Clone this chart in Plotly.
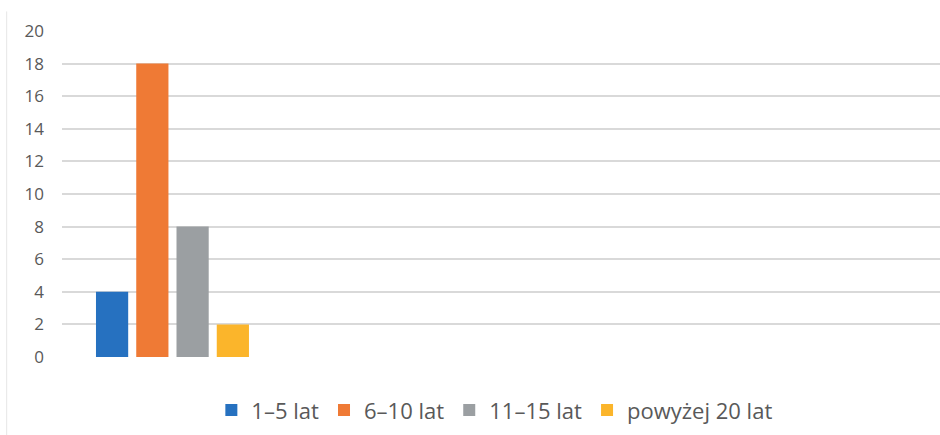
import plotly.graph_objects as go

categories = [""]
series_names = ["1–5 lat", "6–10 lat", "11–15 lat", "powyżej 20 lat"]
series_values = [[4], [18], [8], [2]]
colors = ["#2671C0", "#EF7A35", "#9B9FA2", "#FBB52B"]
y_ticks = [0, 2, 4, 6, 8, 10, 12, 14, 16, 18, 20]

fig = go.Figure()
for name, vals, col in zip(series_names, series_values, colors):
    fig.add_trace(go.Bar(x=[0], y=vals, name=name, marker=dict(color=col, line=dict(width=0))))

fig.update_layout(
    width=940, height=435,
    margin=dict(l=62, r=0, t=31, b=78),
    paper_bgcolor="white", plot_bgcolor="white",
    barmode="group", bargap=0.5, bargroupgap=0.2,
    font=dict(family="Open Sans, Lato, sans-serif", color="#595959"),
    showlegend=True,
    legend=dict(orientation="h", x=0.493, xanchor="center", y=-0.163, yanchor="middle",
                font=dict(size=22, color="#595959"), itemwidth=30, traceorder="normal"),
    xaxis=dict(range=[-0.343, 2.383], showticklabels=False, showgrid=False, zeroline=False,
               showline=False, ticks=""),
    yaxis=dict(range=[0, 20], tickvals=y_ticks, showgrid=True, gridcolor="#D9D9D9", gridwidth=1.5,
               zeroline=False, showline=False, ticks="", ticklabelstandoff=17,
               tickfont=dict(size=17, color="#595959")),
)
fig.add_shape(type="line", xref="paper", yref="paper", x0=-0.063, x1=-0.063, y0=1.06, y1=-0.24,
              line=dict(color="#E6E6E6", width=1))
fig.write_html("out.html", config={"displayModeBar": False},
               post_script="document.body.style.margin='0px';")
